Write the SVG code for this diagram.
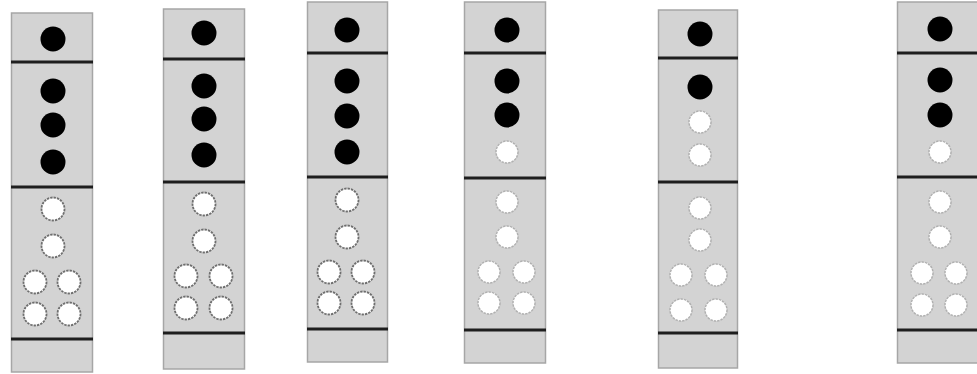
<svg xmlns="http://www.w3.org/2000/svg" width="977" height="374" viewBox="0 0 977 374">
<style>
.bg{fill:#ffffff}
.box{fill:#d3d3d3;stroke:#a6a6a6;stroke-width:1.5}
.sep{stroke:#1e1e1e;stroke-width:3}
.on{fill:#000000}
.off{fill:#ffffff;stroke:#6e6e6e;stroke-width:1.8;stroke-dasharray:2.4 1}
.off2{fill:#ffffff;stroke:#b0b0b0;stroke-width:1.5;stroke-dasharray:2.4 1}
</style>
<rect class="bg" x="0" y="0" width="977" height="374"/>
<g id="col1">
<rect class="box" x="11.5" y="13" width="81" height="359"/>
<line class="sep" x1="11" y1="62" x2="93" y2="62"/>
<line class="sep" x1="11" y1="187" x2="93" y2="187"/>
<line class="sep" x1="11" y1="339" x2="93" y2="339"/>
<circle class="on" cx="53" cy="39" r="12.5"/>
<circle class="on" cx="53" cy="91" r="12.5"/>
<circle class="on" cx="53" cy="125" r="12.5"/>
<circle class="on" cx="53" cy="162" r="12.5"/>
<circle class="off" cx="53" cy="209" r="11.5"/>
<circle class="off" cx="53" cy="246" r="11.5"/>
<circle class="off" cx="35" cy="282" r="11.5"/>
<circle class="off" cx="69" cy="282" r="11.5"/>
<circle class="off" cx="35" cy="314" r="11.5"/>
<circle class="off" cx="69" cy="314" r="11.5"/>
</g>
<g id="col2">
<rect class="box" x="163.5" y="9" width="81" height="360"/>
<line class="sep" x1="163" y1="59" x2="245" y2="59"/>
<line class="sep" x1="163" y1="182" x2="245" y2="182"/>
<line class="sep" x1="163" y1="333" x2="245" y2="333"/>
<circle class="on" cx="204" cy="33" r="12.5"/>
<circle class="on" cx="204" cy="86" r="12.5"/>
<circle class="on" cx="204" cy="119" r="12.5"/>
<circle class="on" cx="204" cy="155" r="12.5"/>
<circle class="off" cx="204" cy="204" r="11.5"/>
<circle class="off" cx="204" cy="241" r="11.5"/>
<circle class="off" cx="186" cy="276" r="11.5"/>
<circle class="off" cx="221" cy="276" r="11.5"/>
<circle class="off" cx="186" cy="308" r="11.5"/>
<circle class="off" cx="221" cy="308" r="11.5"/>
</g>
<g id="col3">
<rect class="box" x="307.5" y="2" width="80" height="360"/>
<line class="sep" x1="307" y1="53" x2="388" y2="53"/>
<line class="sep" x1="307" y1="177" x2="388" y2="177"/>
<line class="sep" x1="307" y1="329" x2="388" y2="329"/>
<circle class="on" cx="347" cy="30" r="12.5"/>
<circle class="on" cx="347" cy="81" r="12.5"/>
<circle class="on" cx="347" cy="116" r="12.5"/>
<circle class="on" cx="347" cy="152" r="12.5"/>
<circle class="off" cx="347" cy="200" r="11.5"/>
<circle class="off" cx="347" cy="237" r="11.5"/>
<circle class="off" cx="329" cy="272" r="11.5"/>
<circle class="off" cx="363" cy="272" r="11.5"/>
<circle class="off" cx="329" cy="303" r="11.5"/>
<circle class="off" cx="363" cy="303" r="11.5"/>
</g>
<g id="col4">
<rect class="box" x="464.5" y="2" width="81" height="361"/>
<line class="sep" x1="464" y1="53" x2="546" y2="53"/>
<line class="sep" x1="464" y1="178" x2="546" y2="178"/>
<line class="sep" x1="464" y1="330" x2="546" y2="330"/>
<circle class="on" cx="507" cy="30" r="12.5"/>
<circle class="on" cx="507" cy="81" r="12.5"/>
<circle class="on" cx="507" cy="115" r="12.5"/>
<circle class="off2" cx="507" cy="152" r="11"/>
<circle class="off2" cx="507" cy="202" r="11"/>
<circle class="off2" cx="507" cy="237" r="11"/>
<circle class="off2" cx="489" cy="272" r="11"/>
<circle class="off2" cx="524" cy="272" r="11"/>
<circle class="off2" cx="489" cy="303" r="11"/>
<circle class="off2" cx="524" cy="303" r="11"/>
</g>
<g id="col5">
<rect class="box" x="658.5" y="10" width="79" height="358"/>
<line class="sep" x1="658" y1="58" x2="738" y2="58"/>
<line class="sep" x1="658" y1="182" x2="738" y2="182"/>
<line class="sep" x1="658" y1="333" x2="738" y2="333"/>
<circle class="on" cx="700" cy="34" r="12.5"/>
<circle class="on" cx="700" cy="87" r="12.5"/>
<circle class="off2" cx="700" cy="122" r="11"/>
<circle class="off2" cx="700" cy="155" r="11"/>
<circle class="off2" cx="700" cy="208" r="11"/>
<circle class="off2" cx="700" cy="240" r="11"/>
<circle class="off2" cx="681" cy="275" r="11"/>
<circle class="off2" cx="716" cy="275" r="11"/>
<circle class="off2" cx="681" cy="310" r="11"/>
<circle class="off2" cx="716" cy="310" r="11"/>
</g>
<g id="col6">
<rect class="box" x="897.5" y="2" width="82" height="361"/>
<line class="sep" x1="897" y1="53" x2="977" y2="53"/>
<line class="sep" x1="897" y1="177" x2="977" y2="177"/>
<line class="sep" x1="897" y1="330" x2="977" y2="330"/>
<circle class="on" cx="940" cy="29" r="12.5"/>
<circle class="on" cx="940" cy="80" r="12.5"/>
<circle class="on" cx="940" cy="115" r="12.5"/>
<circle class="off2" cx="940" cy="152" r="11"/>
<circle class="off2" cx="940" cy="202" r="11"/>
<circle class="off2" cx="940" cy="237" r="11"/>
<circle class="off2" cx="922" cy="273" r="11"/>
<circle class="off2" cx="956" cy="273" r="11"/>
<circle class="off2" cx="922" cy="305" r="11"/>
<circle class="off2" cx="956" cy="305" r="11"/>
</g>
</svg>
